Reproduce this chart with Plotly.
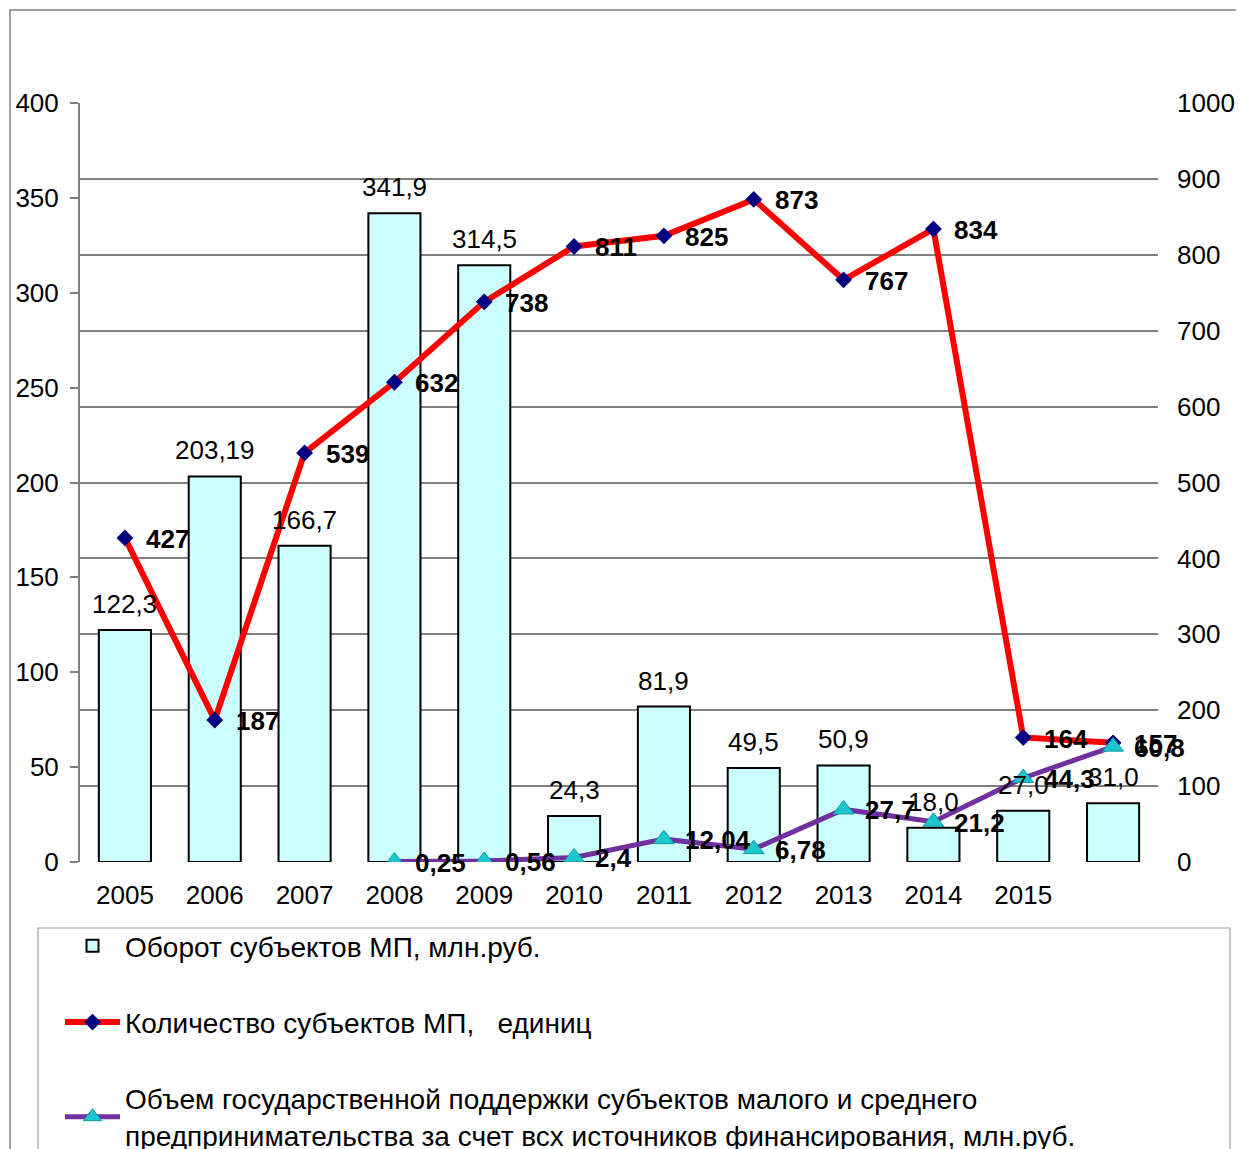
import plotly.graph_objects as go

categories = ["2005", "2006", "2007", "2008", "2009", "2010", "2011", "2012", "2013", "2014", "2015", "2016"]
tick_labels = ["2005", "2006", "2007", "2008", "2009", "2010", "2011", "2012", "2013", "2014", "2015", ""]
turnover = [122.3, 203.19, 166.7, 341.9, 314.5, 24.3, 81.9, 49.5, 50.9, 18.0, 27.0, 31.0]
turnover_labels = ["122,3", "203,19", "166,7", "341,9", "314,5", "24,3", "81,9", "49,5", "50,9", "18,0", "27,0", "31,0"]
count = [427, 187, 539, 632, 738, 811, 825, 873, 767, 834, 164, 157]
support_cats = ["2008", "2009", "2010", "2011", "2012", "2013", "2014", "2015", "2016"]
support = [0.25, 0.56, 2.4, 12.04, 6.78, 27.7, 21.2, 44.3, 60.8]
support_labels = ["0,25", "0,56", "2,4", "12,04", "6,78", "27,7", "21,2", "44,3", "60,8"]

name_bar = "Оборот субъектов МП, млн.руб."
name_red = "Количество субъектов МП,   единиц"
name_purple = ("Объем государственной поддержки субъектов малого и среднего<br>"
               "предпринимательства за счет всх источников финансирования, млн.руб.")

FONT = "Liberation Sans, Arial, sans-serif"
FS = 26

xi = list(range(len(categories)))
xs = [categories.index(c) for c in support_cats]

fig = go.Figure()
fig.add_trace(go.Bar(
    x=xi, y=turnover, name=name_bar, yaxis="y",
    marker=dict(color="#CCFFFF", line=dict(color="#000000", width=2)),
    legendgroup="a",
))
fig.add_trace(go.Scatter(
    x=xi, y=count, name=name_red, yaxis="y2", mode="lines+markers",
    line=dict(color="#FF0000", width=6),
    marker=dict(symbol="diamond", size=13, color="#000080", line=dict(width=0)),
    legendgroup="b",
))
fig.add_trace(go.Scatter(
    x=xs, y=support, name=name_purple, yaxis="y3", mode="lines+markers",
    line=dict(color="#7030A0", width=5),
    marker=dict(symbol="triangle-up", size=18, color="#1CC6CC", line=dict(color="#109CA0", width=1)),
    legendgroup="c",
))

annotations = []
for x, v, t in zip(xi, turnover, turnover_labels):
    annotations.append(dict(x=x, y=v, xref="x", yref="y", text=t, showarrow=False,
                            xanchor="center", yanchor="bottom", yshift=9,
                            font=dict(family=FONT, size=FS, color="#000000")))
for x, v in zip(xi, count):
    annotations.append(dict(x=x, y=v, xref="x", yref="y2", text="<b>%d</b>" % v, showarrow=False,
                            xanchor="left", yanchor="middle", xshift=19, yshift=-1,
                            font=dict(family=FONT, size=FS, color="#000000")))
for x, v, t in zip(xs, support, support_labels):
    annotations.append(dict(x=x, y=v, xref="x", yref="y3", text="<b>%s</b>" % t, showarrow=False,
                            xanchor="left", yanchor="middle", xshift=19, yshift=-1,
                            font=dict(family=FONT, size=FS, color="#000000")))

OFF = 8  # default page body margin
W, H = 1244 - 2 * OFF, 1149 - OFF
L, R, T, B = 80 - OFF, 1158 - OFF, 103 - OFF, 862 - OFF
pw, ph = R - L, B - T


def px(x):
    return (x - OFF - L) / pw


def py(y):
    return (B - (y - OFF)) / ph


shapes = [
    dict(type="rect", xref="paper", yref="paper", x0=px(10), x1=px(1260), y0=py(1170), y1=py(10),
         line=dict(color="#808080", width=1.5), fillcolor="rgba(0,0,0,0)", layer="below"),
    dict(type="rect", xref="paper", yref="paper", x0=px(38), x1=px(1230), y0=py(1170), y1=py(928),
         line=dict(color="#A0A0A0", width=1.2), fillcolor="rgba(0,0,0,0)", layer="below"),
]

fig.update_layout(
    width=W, height=H,
    margin=dict(l=L, r=W - R, t=T, b=H - B, pad=0, autoexpand=False),
    paper_bgcolor="white", plot_bgcolor="white",
    font=dict(family=FONT, size=FS, color="#000000"),
    bargap=0.42,
    showlegend=True,
    legend=dict(
        xref="container", yref="container",
        x=(60 - OFF) / W, y=1 - (921 - OFF) / H, xanchor="left", yanchor="top",
        orientation="v", traceorder="grouped",
        font=dict(family=FONT, size=28, color="#000000"),
        itemwidth=55, tracegroupgap=37,
        bgcolor="rgba(0,0,0,0)", borderwidth=0,
    ),
    xaxis=dict(
        tickmode="array", tickvals=xi, ticktext=tick_labels,
        showgrid=False, ticks="", showline=False, zeroline=False,
        tickfont=dict(family=FONT, size=FS), ticklabelstandoff=15,
        range=[-0.5, len(categories) - 0.5],
    ),
    yaxis=dict(
        range=[0, 400], dtick=50, showgrid=False, zeroline=False,
        showline=True, linecolor="#808080", linewidth=2,
        ticks="outside", ticklen=8, tickcolor="#808080", tickwidth=2,
        tickfont=dict(family=FONT, size=FS), ticklabelstandoff=6,
    ),
    yaxis2=dict(
        range=[0, 1000], dtick=100, overlaying="y", side="right",
        showgrid=True, gridcolor="#808080", gridwidth=2, zeroline=False,
        showline=False, ticks="", tickfont=dict(family=FONT, size=FS),
        ticklabelstandoff=18,
    ),
    yaxis3=dict(
        range=[0, 400], overlaying="y", visible=False,
    ),
    annotations=annotations,
    shapes=shapes,
)

fig.write_html("out.html")
